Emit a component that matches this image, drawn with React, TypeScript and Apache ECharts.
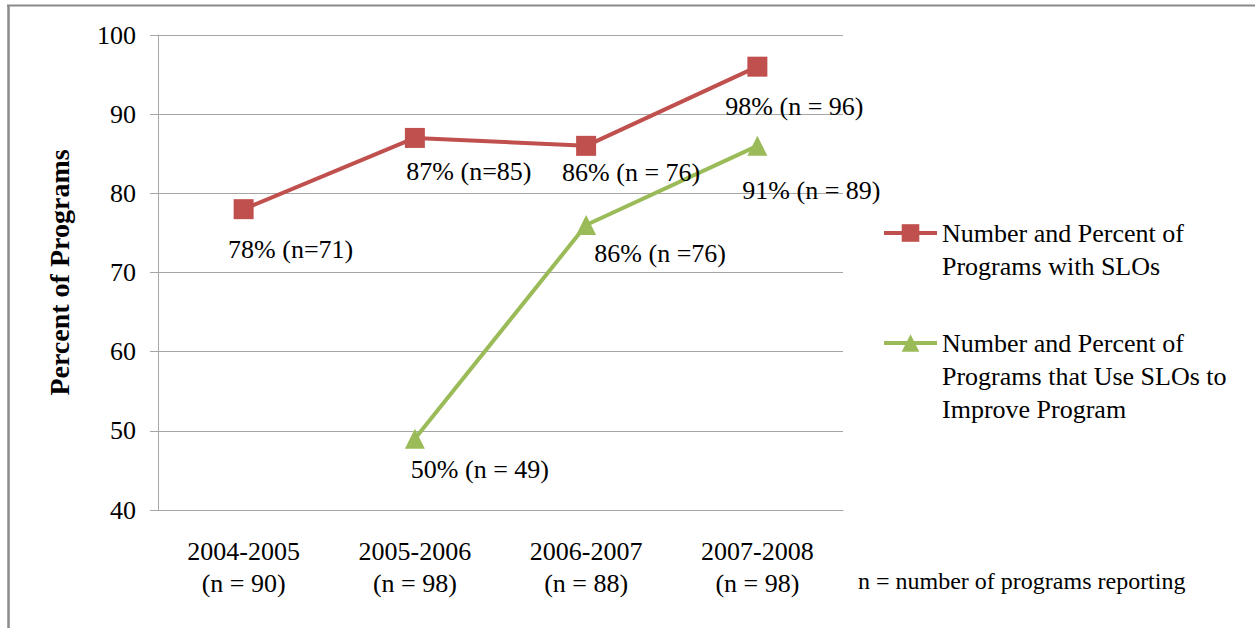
import React, { useEffect, useRef } from "react";
import * as echarts from "echarts";

const years = ["2004-2005", "2005-2006", "2006-2007", "2007-2008"];
const yearN = ["(n = 90)", "(n = 98)", "(n = 88)", "(n = 98)"];
const withSLOs = [78, 87, 86, 96];
const useSLOs: (number | null)[] = [null, 49, 76, 86];
const withSLOsLabels = ["78% (n=71)", "87% (n=85)", "86% (n = 76)", "98% (n = 96)"];
const useSLOsLabels = ["", "50% (n = 49)", "86% (n =76)", "91% (n = 89)"];
const yTicks = { min: 40, max: 100, interval: 10 };
const seriesNames = [
  "Number and Percent of\nPrograms with SLOs",
  "Number and Percent of\nPrograms that Use SLOs to\nImprove Program",
];
const noteText = "n = number of programs reporting";

const FONT = "Liberation Serif, Times New Roman, serif";
const RED = "#C0504D";
const GREEN = "#9BBB59";
const GRID = "#a6a6a6";

const redOffsets = [[47, 40], [54, 34], [45, 27], [37, 40]];
const greenOffsets = [[0, 0], [65, 31], [74, 28], [54, 45]];

export default function App() {
  const ref = useRef<HTMLDivElement>(null);
  useEffect(() => {
    if (!ref.current) return;
    const chart = echarts.init(ref.current, null, { renderer: "svg" });
    const LH = 33;
    const mkLabel = (text: string, off: number[]) => ({
      show: text !== "",
      position: "inside",
      offset: off,
      formatter: text,
      color: "#000",
      fontFamily: FONT,
      fontSize: 26,
      fontWeight: "normal",
      align: "center",
      verticalAlign: "middle",
    });
    const legendBase = {
      left: 882,
      padding: 0,
      orient: "vertical",
      itemWidth: 53,
      itemHeight: 22,
      itemGap: 0,
      lineStyle: { width: 4 },
      textStyle: { color: "#000", fontFamily: FONT, fontSize: 26, fontWeight: "normal", lineHeight: LH },
    };
    chart.setOption({
      animation: false,
      backgroundColor: "#fff",
      textStyle: { fontFamily: FONT, fontWeight: "normal" },
      grid: { left: 158, right: 412, top: 35, bottom: 118, containLabel: false },
      xAxis: {
        type: "category",
        data: years.map((y, i) => `${y}\n${yearN[i]}`),
        boundaryGap: true,
        axisLine: { show: true, lineStyle: { color: GRID, width: 1 } },
        axisTick: { show: false },
        axisLabel: {
          color: "#000",
          fontFamily: FONT,
          fontWeight: "normal",
          fontSize: 26,
          lineHeight: 32,
          margin: 25,
          interval: 0,
        },
      },
      yAxis: {
        type: "value",
        min: yTicks.min,
        max: yTicks.max,
        interval: yTicks.interval,
        name: "Percent of Programs",
        nameLocation: "middle",
        nameRotate: 90,
        nameGap: 85,
        nameTextStyle: { color: "#000", fontFamily: FONT, fontSize: 28, fontWeight: "bold" },
        axisLine: { show: true, lineStyle: { color: GRID, width: 1 } },
        axisTick: { show: true, length: 8, lineStyle: { color: GRID } },
        splitLine: { show: true, lineStyle: { color: GRID, width: 1 } },
        axisLabel: { color: "#000", fontFamily: FONT, fontWeight: "normal", fontSize: 26, margin: 22 },
      },
      legend: [
        {
          ...legendBase,
          data: [seriesNames[0]],
          top: 233 - 1.5 * LH,
          formatter: (name: string) => "\u00a0\n" + name,
        },
        {
          ...legendBase,
          data: [seriesNames[1]],
          top: 343 - 2.5 * LH,
          formatter: (name: string) => "\u00a0\n\u00a0\n" + name,
        },
      ],
      series: [
        {
          name: seriesNames[0],
          type: "line",
          data: withSLOs.map((v, i) => ({ value: v, label: mkLabel(withSLOsLabels[i], redOffsets[i]) })),
          symbol: "rect",
          symbolSize: 20,
          lineStyle: { color: RED, width: 4 },
          itemStyle: { color: RED },
          z: 3,
        },
        {
          name: seriesNames[1],
          type: "line",
          data: useSLOs.map((v, i) => ({ value: v, label: mkLabel(useSLOsLabels[i], greenOffsets[i]) })),
          symbol: "triangle",
          symbolSize: 20,
          lineStyle: { color: GREEN, width: 4 },
          itemStyle: { color: GREEN },
          z: 2,
        },
      ],
      graphic: [
        {
          type: "line",
          shape: { x1: 7, y1: 5.5, x2: 1255, y2: 5.5 },
          style: { stroke: "#8a8a8a", lineWidth: 2 },
        },
        {
          type: "line",
          shape: { x1: 8.5, y1: 5, x2: 8.5, y2: 628 },
          style: { stroke: "#8a8a8a", lineWidth: 2.5 },
        },
        {
          type: "text",
          left: 858,
          top: 569,
          style: { text: noteText, fill: "#000", font: `24px ${FONT}` },
        },
      ],
    });
    return () => chart.dispose();
  }, []);
  return (
    <div
      ref={ref}
      style={{ position: "fixed", left: 0, top: 0, width: 1255, height: 628 }}
    />
  );
}
